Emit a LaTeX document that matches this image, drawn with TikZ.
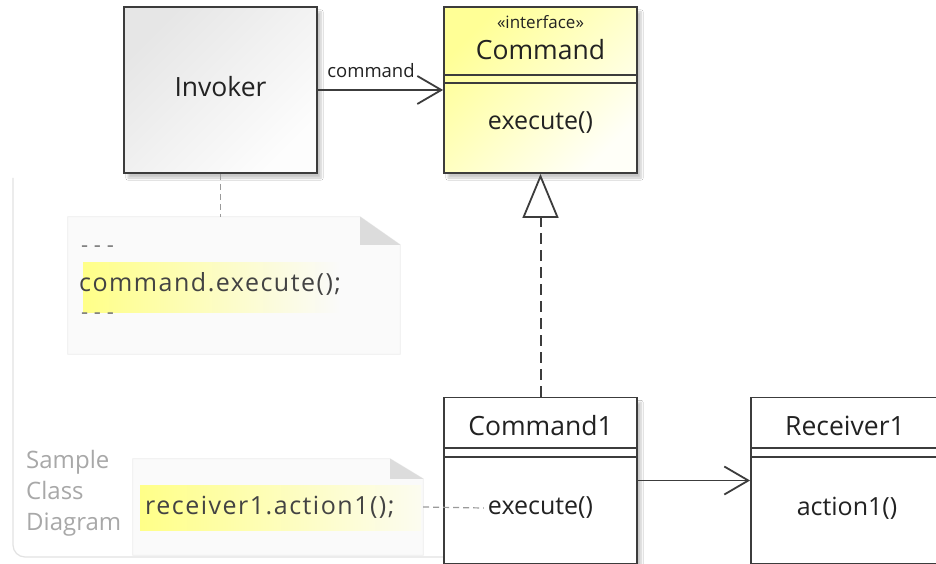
\documentclass[tikz,border=0pt]{standalone}
\usepackage{fontspec}
\setmainfont{Open Sans}
\usetikzlibrary{arrows.meta,shadows.blur}
\definecolor{linec}{HTML}{3C3C3C}
\definecolor{textc}{HTML}{222222}
\definecolor{framec}{HTML}{E2E2E2}
\definecolor{frametext}{HTML}{A8A8A8}
\definecolor{notefill}{HTML}{FAFAFA}
\definecolor{noteline}{HTML}{EDEDED}
\definecolor{foldc}{HTML}{DCDCDC}
\definecolor{notedash}{HTML}{9A9A9A}
\definecolor{invtop}{HTML}{E6E6E6}
\definecolor{invbot}{HTML}{FDFDFD}
\definecolor{cmdtop}{HTML}{FFFF96}
\definecolor{cmdbot}{HTML}{FFFFF8}
\definecolor{hlyel}{HTML}{FFFF88}
\definecolor{hlend}{HTML}{FCFCF0}
\tikzset{
  classbox/.style={draw=linec, line width=1.8pt, minimum width=193pt, minimum height=166pt, inner sep=0pt,
    blur shadow={shadow xshift=4pt, shadow yshift=-5pt, shadow blur steps=6, shadow opacity=22}},
  title/.style={font=\fontsize{26.5}{30}\selectfont, text=textc, inner sep=0pt},
  oper/.style={font=\fontsize{25}{28}\selectfont, text=textc, inner sep=0pt},
  stereo/.style={font=\fontsize{17}{18}\selectfont, text=textc, inner sep=0pt},
  code/.style={font=\fontsize{25}{30}\selectfont\addfontfeature{LetterSpace=6}, text=textc!85!white, inner sep=0pt, anchor=west},
  dots/.style={font=\fontsize{22}{26}\selectfont, text=textc!60!white, inner sep=0pt, anchor=west},
  notearea/.style={inner sep=0pt},
  notebody/.style={fill=notefill, draw=noteline, line width=0.8pt},
  sepline/.style={draw=linec, line width=1.2pt},
  assoc/.style={draw=linec, line width=1.8pt, -{Straight Barb[length=24pt, width=28pt, line width=1.8pt]}},
  realize/.style={draw=linec, line width=2pt, dash pattern=on 11pt off 6pt, -{Triangle[open, length=44pt, width=36pt, line width=1.8pt, fill=white]}},
  notelink/.style={draw=notedash, line width=1.2pt, dash pattern=on 6pt off 4pt},
  framelab/.style={font=\fontsize{24}{29.5}\selectfont, text=frametext, inner sep=0pt, anchor=base west},
}
\begin{document}
\begin{tikzpicture}[x=1pt,y=-1pt]
\useasboundingbox (0,0) rectangle (936,564);
\clip (0,0) rectangle (936,564);
\fill[white] (0,0) rectangle (936,564);
% frame
\draw[framec, line width=1.2pt, rounded corners=12pt] (13,178) -- (13,557) -- (445,557);
\node[framelab] (fl1) at (26,468) {Sample};
\node[framelab] (fl2) at (26,499) {Class};
\node[framelab] (fl3) at (26,530) {Diagram};
% Invoker
\node[classbox, top color=invtop, bottom color=invbot, shading angle=45] (inv) at (220.5,90) {};
\node[title] (invt) at (220.5,87) {Invoker};
% Command
\node[classbox, top color=cmdtop, bottom color=cmdbot, shading angle=45] (cmd) at (540.5,90) {};
\node[stereo] (cmdst) at (540.5,22) {«interface»};
\node[title] (cmdt) at (540.5,50) {Command};
\draw[sepline] (cmd.west |- 0,75) -- (cmd.east |- 0,75);
\draw[sepline] (cmd.west |- 0,83) -- (cmd.east |- 0,83);
\node[oper] (cmdop) at (540.5,123) {execute()};
% Command1
\node[classbox, fill=white] (cmd1) at (540.5,480.5) {};
\node[title] (cmd1t) at (540.5,426) {Command1};
\draw[sepline] (cmd1.west |- 0,448) -- (cmd1.east |- 0,448);
\draw[sepline] (cmd1.west |- 0,457) -- (cmd1.east |- 0,457);
\node[oper] (cmd1op) at (540.5,508) {execute()};
% Receiver1
\node[classbox, fill=white] (rec1) at (847.5,480.5) {};
\node[title] (rec1t) at (845,426) {Receiver1};
\draw[sepline] (rec1.west |- 0,448) -- (rec1.east |- 0,448);
\draw[sepline] (rec1.west |- 0,457) -- (rec1.east |- 0,457);
\node[oper] (rec1op) at (847,508) {action1()};
% Note 1
\node[notearea, minimum width=332pt, minimum height=137pt] (note1) at (234,285.5) {};
\path[notebody] (note1.north west) -- ([xshift=-40pt]note1.north east) -- ([yshift=-28pt]note1.north east) -- (note1.south east) -- (note1.south west) -- cycle;
\fill[foldc] ([xshift=-40pt]note1.north east) -- ([xshift=-40pt,yshift=-28pt]note1.north east) -- ([yshift=-28pt]note1.north east) -- cycle;
\shade[left color=hlyel, right color=notefill] (83,262) rectangle (340,312);
\node[dots] (n1a) at (81,249) {- - -};
\node[code] (n1b) at (79,284) {command.execute();};
\node[dots] (n1c) at (81,316) {- - -};
% Note 2
\node[notearea, minimum width=290pt, minimum height=96pt] (note2) at (278,507) {};
\path[notebody] (note2.north west) -- ([xshift=-33pt]note2.north east) -- ([yshift=-20pt]note2.north east) -- (note2.south east) -- (note2.south west) -- cycle;
\fill[foldc] ([xshift=-33pt]note2.north east) -- ([xshift=-33pt,yshift=-20pt]note2.north east) -- ([yshift=-20pt]note2.north east) -- cycle;
\shade[left color=hlyel, right color=hlend] (140,485) rectangle (421,530);
\node[code] (n2a) at (145,507) {receiver1.action1();};
% connectors
\draw[assoc] (inv.east) -- (cmd.west);
\node[font=\fontsize{18.5}{20}\selectfont, text=textc, inner sep=0pt] (rolelbl) at (371,71) {command};
\draw[realize] (cmd1.north) -- (cmd.south);
\draw[assoc] (cmd1.east) -- (rec1.west);
\draw[notelink] (inv.south) -- (inv.south |- note1.north);
\draw[notelink] (note2.east) -- ([xshift=-4pt]cmd1op.west);
\end{tikzpicture}
\end{document}
